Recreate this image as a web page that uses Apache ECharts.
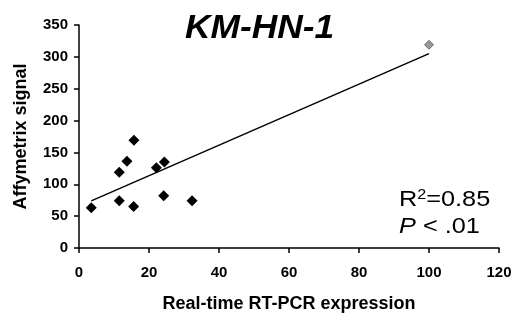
<!DOCTYPE html>
<html><head><meta charset="utf-8">
<script src="https://cdn.jsdelivr.net/npm/echarts@6/dist/echarts.min.js"></script>
<style>html,body{margin:0;padding:0;background:#fff}#c{width:514px;height:322px}</style>
</head><body><div id="c"></div>
<script>
const pointsX = [3.5, 11.5, 11.5, 13.7, 15.7, 15.6, 22.1, 24.4, 24.2, 32.3];
const pointsY = [63, 74, 119, 136, 169, 65, 126, 135, 82, 74];
const outlierX = [100];
const outlierY = [319];
const trendX = [3.5, 100];
const trendY = [74, 305];
const xTicks = [0, 20, 40, 60, 80, 100, 120];
const yTicks = [0, 50, 100, 150, 200, 250, 300, 350];

const zip = (a, b) => a.map((v, i) => [v, b[i]]);
const chart = echarts.init(document.getElementById('c'), null, {renderer: 'canvas'});
const font = 'Liberation Sans, Arial, sans-serif';
chart.setOption({
  animation: false,
  grid: {left: 79, right: 15, top: 25, bottom: 74, containLabel: false, outerBoundsMode: 'none'},
  xAxis: {
    type: 'value', min: xTicks[0], max: xTicks[xTicks.length - 1], interval: 20,
    name: 'Real-time RT-PCR expression', nameLocation: 'middle', nameGap: 47,
    nameTextStyle: {fontFamily: font, fontSize: 18, fontWeight: 'bold', color: '#000'},
    axisLine: {lineStyle: {color: '#000', width: 1.5}},
    axisTick: {show: true, length: 5, lineStyle: {color: '#000', width: 1.5}},
    axisLabel: {fontFamily: font, fontSize: 15, fontWeight: 'bold', color: '#000', margin: 17},
    splitLine: {show: false}
  },
  yAxis: {
    type: 'value', min: yTicks[0], max: yTicks[yTicks.length - 1], interval: 50,
    name: 'Affymetrix signal', nameLocation: 'middle', nameGap: 49,
    nameTextStyle: {fontFamily: font, fontSize: 18, fontWeight: 'bold', color: '#000'},
    axisLine: {show: true, lineStyle: {color: '#000', width: 1.5}},
    axisTick: {show: true, length: 5, lineStyle: {color: '#000', width: 1.5}},
    axisLabel: {fontFamily: font, fontSize: 15, fontWeight: 'bold', color: '#000', margin: 11},
    splitLine: {show: false}
  },
  series: [
    {type: 'line', data: zip(trendX, trendY), symbol: 'none', lineStyle: {color: '#000', width: 1.5}, z: 1},
    {type: 'scatter', data: zip(pointsX, pointsY), symbol: 'diamond', symbolSize: 11, itemStyle: {color: '#000', opacity: 1}, z: 3},
    {type: 'scatter', data: zip(outlierX, outlierY), symbol: 'diamond', symbolSize: 9, itemStyle: {color: '#999', borderColor: '#555', borderWidth: 0.8, opacity: 1}, z: 3}
  ],
  graphic: [
    {type: 'text', x: 185, y: 12, scaleX: 1.04, style: {
      text: 'KM-HN-1', fontFamily: font, fontSize: 34, fontWeight: 'bold', fontStyle: 'italic', fill: '#000'
    }},
    {type: 'text', x: 399, y: 188, scaleX: 1.15, style: {
      text: '{a|R}{s|2}{a|=0.85}',
      rich: {a: {fontFamily: font, fontSize: 22, fill: '#000'}, s: {fontFamily: font, fontSize: 14, fill: '#000', verticalAlign: 'top', padding: [0, 0, 9, 0]}}
    }},
    {type: 'text', x: 399, y: 216, scaleX: 1.15, style: {
      text: '{i|P}{a| < .01}',
      rich: {a: {fontFamily: font, fontSize: 22, fill: '#000'}, i: {fontFamily: font, fontSize: 22, fontStyle: 'italic', fill: '#000'}}
    }}
  ]
});
</script></body></html>
